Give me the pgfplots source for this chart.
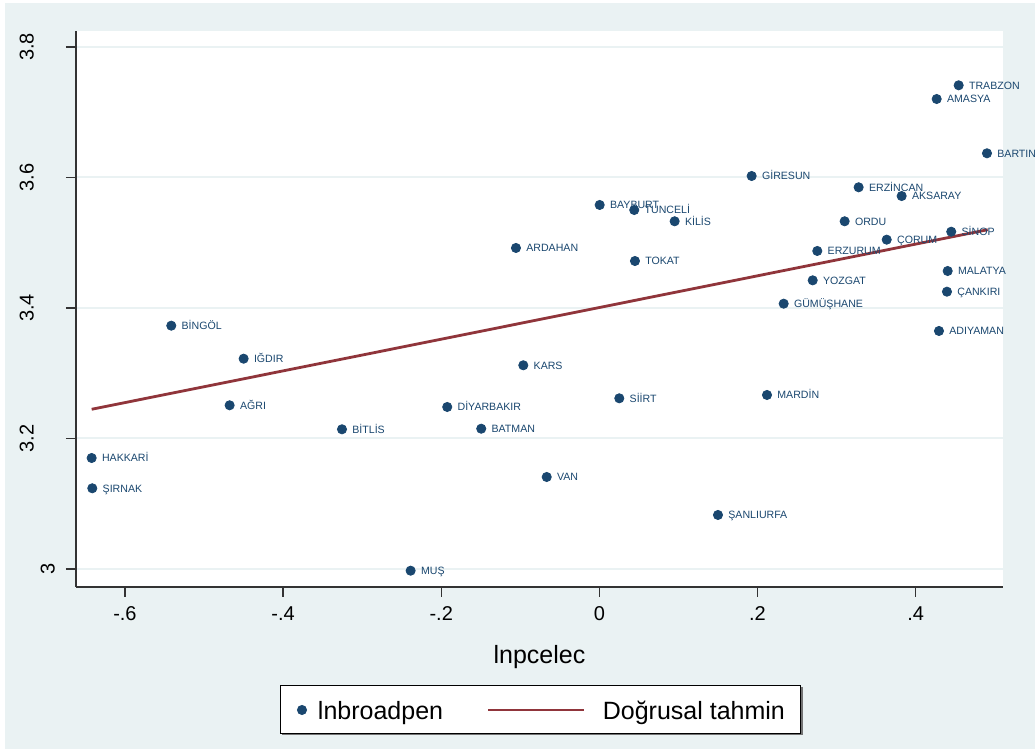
\documentclass[border=0pt]{standalone}
\usepackage{pgfplots}
\pgfplotsset{compat=1.18}
\usepackage{pgfplotstable}
\usepackage{fontspec}
\setmainfont{Liberation Sans}
\definecolor{ltbg}{RGB}{234,242,243}
\definecolor{navy}{RGB}{26,71,111}
\definecolor{maroon}{RGB}{144,53,59}

\pgfplotstableread{
x y label
0.4544 3.7413 TRABZON
0.4266 3.7203 AMASYA
0.4902 3.6371 BARTIN
0.1926 3.6023 GİRESUN
0.3279 3.5850 ERZİNCAN
0.3823 3.5716 AKSARAY
0.0004 3.5579 BAYBURT
0.0441 3.5502 TUNCELİ
0.0952 3.5329 KİLİS
0.3102 3.5329 ORDU
0.4450 3.5169 SİNOP
0.3634 3.5047 ÇORUM
0.2756 3.4874 ERZURUM
-0.1055 3.4920 ARDAHAN
0.0450 3.4720 TOKAT
0.4405 3.4567 MALATYA
0.2698 3.4424 YOZGAT
0.4396 3.4250 ÇANKIRI
0.2331 3.4066 GÜMÜŞHANE
0.4295 3.3648 ADIYAMAN
-0.5414 3.3729 BİNGÖL
-0.4499 3.3223 IĞDIR
-0.0962 3.3122 KARS
-0.4676 3.2509 AĞRI
-0.1924 3.2483 DİYARBAKIR
0.0252 3.2616 SİİRT
0.2120 3.2667 MARDİN
-0.3255 3.2141 BİTLİS
-0.1494 3.2150 BATMAN
-0.6421 3.1701 HAKKARİ
-0.6413 3.1237 ŞIRNAK
-0.0666 3.1410 VAN
0.1500 3.0828 ŞANLIURFA
-0.2387 2.9974 MUŞ
}\datatable

\begin{document}
\begin{tikzpicture}
\fill[white] (-38pt,-81pt) rectangle (479.5pt,293.5pt);
\useasboundingbox (-38pt,-81pt) rectangle (479.5pt,293.5pt);
\fill[ltbg] (-35.5pt,-81pt) rectangle (479.5pt,292pt);
\fill[white] (0pt,0pt) rectangle (463.5pt,278pt);
\fill[black!55] (102.75pt,-74pt) rectangle (363.25pt,-50pt);
\begin{axis}[
  at={(0pt,0pt)}, anchor=south west,
  x=395.35pt, y=326.25pt,
  xmin=-0.6619, xmax=0.5104,
  ymin=2.97241, ymax=3.82452,
  enlargelimits=false,
  clip=false,
  axis x line*=bottom, axis y line*=left,
  axis line style={black!80, line width=0.8pt},
  tick align=outside,
  major tick length=5pt,
  tick style={black!80, line width=0.6pt},
  xtick={-0.6,-0.4,-0.2,0,0.2,0.4},
  xticklabels={-.6,-.4,-.2,0,.2,.4},
  ytick={3,3.2,3.4,3.6,3.8},
  yticklabels={\raisebox{0pt}[\height][5.5pt]{3},
               \raisebox{0pt}[\height][16pt]{3.2},
               \raisebox{0pt}[\height][16pt]{3.4},
               \raisebox{0pt}[\height][16pt]{3.6},
               \raisebox{0pt}[\height][16pt]{3.8}},
  xticklabel style={anchor=base, inner sep=0pt, yshift=-11.75pt, font=\fontsize{10}{12}\selectfont},
  yticklabel style={rotate=90, anchor=south, inner sep=0pt, font=\fontsize{10}{12}\selectfont},
  ymajorgrids,
  major grid style={color=ltbg, line width=1pt},
  xlabel={lnpcelec},
  xlabel style={at={(axis description cs:0.5,-0.1372)}, anchor=base, inner sep=0pt, font=\fontsize{12.5}{15}\selectfont},
  legend columns=2,
  legend style={at={(axis description cs:0.5016,-0.2212)}, anchor=center,
    draw=black, line width=0.5pt, fill=white,
    font=\fontsize{12.5}{15}\selectfont,
    inner xsep=8pt, inner ysep=7pt,
    nodes={inner sep=0pt, text height=10pt, text depth=0pt},
    /tikz/column 1/.style={column sep=5.5pt},
    /tikz/column 2/.style={column sep=22pt},
    /tikz/column 3/.style={column sep=8.5pt}},
  legend cell align=left,
  every node near coord/.append style={anchor=west, inner sep=0pt, xshift=5pt,
    text=navy, font=\fontsize{5.3}{6}\selectfont, text height=3.8pt, text depth=0pt},
]
\addplot[only marks, mark=*, mark size=2.3pt, color=navy,
  nodes near coords, point meta=explicit symbolic,
  legend image code/.code={\fill[navy] (0pt,0pt) circle (2.25pt);}]
  table[x=x, y=y, meta=label] {\datatable};
\addlegendentry{lnbroadpen}
\addplot[maroon, line width=1.4pt, no marks,
  legend image code/.code={\draw[maroon, line width=1.4pt] (0pt,0pt) -- (48pt,0pt);}]
  coordinates {(-0.6421,3.2448) (0.4911,3.5200)};
\addlegendentry{Doğrusal tahmin}
\end{axis}
\end{tikzpicture}
\end{document}
